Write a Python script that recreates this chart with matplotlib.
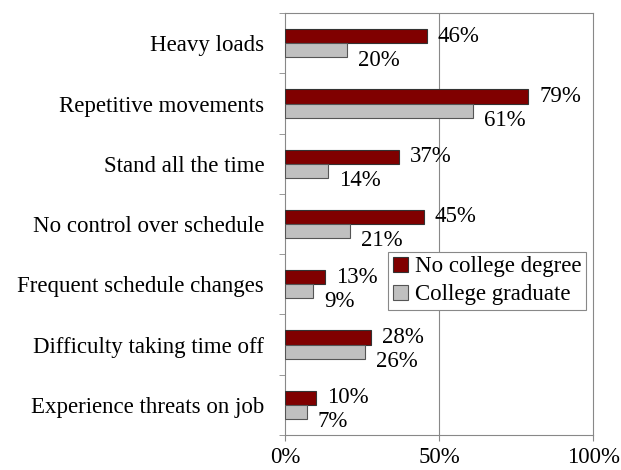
import numpy as np
from matplotlib import pyplot as plt

plt.rcParams['font.family'] = ['Liberation Serif', 'DejaVu Serif']

categories = ['Heavy loads', 'Repetitive movements', 'Stand all the time',
              'No control over schedule', 'Frequent schedule changes',
              'Difficulty taking time off', 'Experience threats on job']
no_degree = [46, 79, 37, 45, 13, 28, 10]
graduate = [20, 61, 14, 21, 9, 26, 7]
x_ticks = [0, 50, 100]
x_tick_labels = ['0%', '50%', '100%']

FS = 16.5

fig = plt.figure(figsize=(6.21, 4.70), dpi=100)
ax = fig.add_axes([0.459, 0.0745, 0.496, 0.8975])

y = np.arange(len(categories))
h = 0.235
ax.barh(y - h / 2, no_degree, height=h, color='#800000', edgecolor='#333333',
        linewidth=0.8, label='No college degree', zorder=3)
ax.barh(y + h / 2, graduate, height=h, color='#C0C0C0', edgecolor='#555555',
        linewidth=0.8, label='College graduate', zorder=3)

# data labels
for i in range(len(categories)):
    ax.annotate(f'{no_degree[i]}%', (no_degree[i], y[i] - h / 2), xytext=(8, 0),
                textcoords='offset points', va='center', ha='left', fontsize=FS)
    ax.annotate(f'{graduate[i]}%', (graduate[i], y[i] + h / 2), xytext=(8, -7),
                textcoords='offset points', va='center', ha='left', fontsize=FS)

ax.set_xlim(0, 100)
ax.set_ylim(len(categories) - 0.5, -0.5)
ax.set_xticks(x_ticks)
ax.set_xticklabels(x_tick_labels, fontsize=FS)
ax.set_yticks(np.arange(len(categories) + 1) - 0.5, minor=True)
ax.set_yticks(y)
ax.set_yticklabels(categories, fontsize=FS)
ax.tick_params(axis='y', which='major', length=0, pad=15)
ax.tick_params(axis='y', which='minor', length=4, color='#888888')
ax.tick_params(axis='x', length=4, color='#888888', pad=5)
ax.axvline(50, color='#888888', linewidth=0.8, zorder=1)
for s in ax.spines.values():
    s.set_color('#888888')
    s.set_linewidth(0.8)

leg = ax.legend(loc='upper left', bbox_to_anchor=(0.335, 0.434), fontsize=FS,
                frameon=True, fancybox=False, handlelength=0.65, handleheight=0.65,
                handletextpad=0.3, borderpad=0.2, labelspacing=0.3, borderaxespad=0,
                framealpha=1)
leg.get_frame().set_edgecolor('#888888')
leg.get_frame().set_linewidth(0.8)

plt.savefig('out.png', dpi=100)
